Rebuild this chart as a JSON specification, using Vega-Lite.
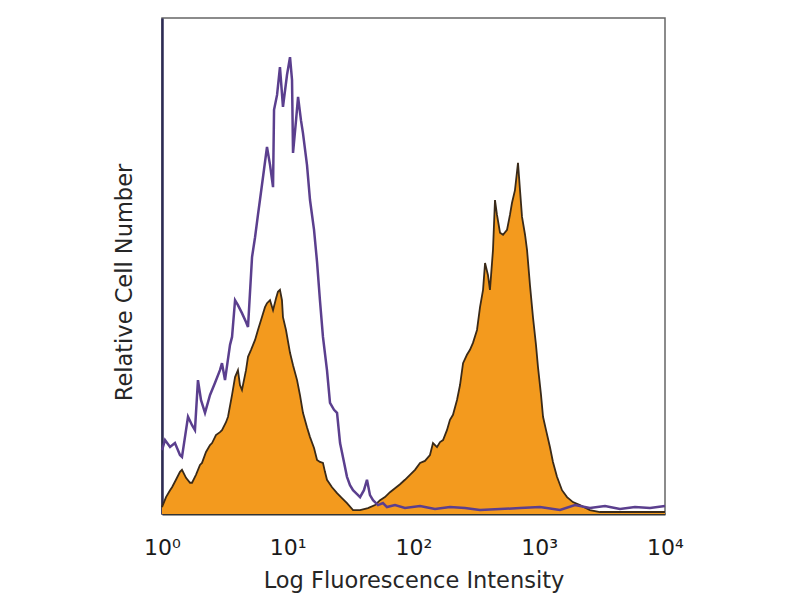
{
  "$schema": "https://vega.github.io/schema/vega-lite/v6.json",
  "autosize": {"type": "none"},
  "width": 503,
  "height": 496,
  "padding": {"left": 162, "top": 18, "right": 135, "bottom": 86},
  "background": "#ffffff",
  "config": {
    "view": {"stroke": "#666666", "strokeWidth": 1.5},
    "font": "DejaVu Sans"
  },
  "datasets": {
    "control": [
      {"log_intensity": 0, "count": 12.9}, {"log_intensity": 0.024, "count": 14.9}, {"log_intensity": 0.064, "count": 13.5},
      {"log_intensity": 0.103, "count": 14.3}, {"log_intensity": 0.143, "count": 11.9}, {"log_intensity": 0.159, "count": 11.5},
      {"log_intensity": 0.191, "count": 16.9}, {"log_intensity": 0.207, "count": 19.6}, {"log_intensity": 0.239, "count": 17.9},
      {"log_intensity": 0.262, "count": 16.9}, {"log_intensity": 0.286, "count": 27.0}, {"log_intensity": 0.310, "count": 23.0},
      {"log_intensity": 0.342, "count": 20.4}, {"log_intensity": 0.382, "count": 24.0}, {"log_intensity": 0.421, "count": 26.4},
      {"log_intensity": 0.461, "count": 29.0}, {"log_intensity": 0.477, "count": 30.4}, {"log_intensity": 0.501, "count": 27.0},
      {"log_intensity": 0.541, "count": 34.1}, {"log_intensity": 0.557, "count": 35.7}, {"log_intensity": 0.581, "count": 43.1},
      {"log_intensity": 0.604, "count": 42.1}, {"log_intensity": 0.636, "count": 40.5}, {"log_intensity": 0.668, "count": 38.7},
      {"log_intensity": 0.684, "count": 37.7}, {"log_intensity": 0.716, "count": 51.8}, {"log_intensity": 0.740, "count": 55.8},
      {"log_intensity": 0.763, "count": 60.3}, {"log_intensity": 0.779, "count": 63.3}, {"log_intensity": 0.811, "count": 69.4},
      {"log_intensity": 0.835, "count": 74.0}, {"log_intensity": 0.859, "count": 70.4}, {"log_intensity": 0.883, "count": 65.9},
      {"log_intensity": 0.891, "count": 81.5}, {"log_intensity": 0.915, "count": 84.5}, {"log_intensity": 0.938, "count": 90.1},
      {"log_intensity": 0.962, "count": 82.1}, {"log_intensity": 0.994, "count": 88.5}, {"log_intensity": 1.018, "count": 92.1},
      {"log_intensity": 1.034, "count": 87.5}, {"log_intensity": 1.042, "count": 72.8}, {"log_intensity": 1.066, "count": 79.4},
      {"log_intensity": 1.082, "count": 84.1}, {"log_intensity": 1.105, "count": 79.4}, {"log_intensity": 1.121, "count": 76.8},
      {"log_intensity": 1.153, "count": 70.4}, {"log_intensity": 1.177, "count": 63.3}, {"log_intensity": 1.209, "count": 57.3},
      {"log_intensity": 1.233, "count": 50.8}, {"log_intensity": 1.256, "count": 43.1}, {"log_intensity": 1.280, "count": 35.7},
      {"log_intensity": 1.312, "count": 29.0}, {"log_intensity": 1.336, "count": 22.4}, {"log_intensity": 1.368, "count": 21.0},
      {"log_intensity": 1.392, "count": 20.4}, {"log_intensity": 1.416, "count": 14.3}, {"log_intensity": 1.447, "count": 10.5},
      {"log_intensity": 1.471, "count": 7.5}, {"log_intensity": 1.495, "count": 5.8}, {"log_intensity": 1.519, "count": 4.8},
      {"log_intensity": 1.551, "count": 4.0}, {"log_intensity": 1.575, "count": 3.4}, {"log_intensity": 1.606, "count": 4.8},
      {"log_intensity": 1.630, "count": 6.9}, {"log_intensity": 1.654, "count": 3.8}, {"log_intensity": 1.678, "count": 2.8},
      {"log_intensity": 1.718, "count": 1.8}, {"log_intensity": 1.757, "count": 2.2}, {"log_intensity": 1.789, "count": 1.4},
      {"log_intensity": 1.853, "count": 1.8}, {"log_intensity": 1.932, "count": 1.2}, {"log_intensity": 2.052, "count": 1.6},
      {"log_intensity": 2.171, "count": 1.0}, {"log_intensity": 2.290, "count": 1.4}, {"log_intensity": 2.409, "count": 1.2},
      {"log_intensity": 2.529, "count": 0.8}, {"log_intensity": 2.688, "count": 1.0}, {"log_intensity": 2.847, "count": 1.2},
      {"log_intensity": 3.006, "count": 1.4}, {"log_intensity": 3.165, "count": 0.8}, {"log_intensity": 3.284, "count": 1.8},
      {"log_intensity": 3.403, "count": 1.2}, {"log_intensity": 3.523, "count": 1.6}, {"log_intensity": 3.642, "count": 1.0},
      {"log_intensity": 3.761, "count": 1.4}, {"log_intensity": 3.881, "count": 1.2}, {"log_intensity": 4.0, "count": 1.6}
    ],
    "stained": [
      {"log_intensity": 0, "count": 1.4}, {"log_intensity": 0.032, "count": 3.4}, {"log_intensity": 0.064, "count": 4.8},
      {"log_intensity": 0.080, "count": 5.4}, {"log_intensity": 0.111, "count": 6.9}, {"log_intensity": 0.143, "count": 8.5},
      {"log_intensity": 0.159, "count": 8.9}, {"log_intensity": 0.191, "count": 7.3}, {"log_intensity": 0.223, "count": 6.3},
      {"log_intensity": 0.239, "count": 6.3}, {"log_intensity": 0.270, "count": 7.9}, {"log_intensity": 0.302, "count": 9.9},
      {"log_intensity": 0.318, "count": 10.3}, {"log_intensity": 0.350, "count": 12.5}, {"log_intensity": 0.382, "count": 13.9},
      {"log_intensity": 0.398, "count": 14.3}, {"log_intensity": 0.429, "count": 15.9}, {"log_intensity": 0.461, "count": 16.5},
      {"log_intensity": 0.477, "count": 16.9}, {"log_intensity": 0.509, "count": 18.5}, {"log_intensity": 0.525, "count": 19.6},
      {"log_intensity": 0.557, "count": 24.0}, {"log_intensity": 0.581, "count": 27.6}, {"log_intensity": 0.604, "count": 29.0},
      {"log_intensity": 0.620, "count": 26.0}, {"log_intensity": 0.636, "count": 25.0}, {"log_intensity": 0.668, "count": 29.0},
      {"log_intensity": 0.684, "count": 31.7}, {"log_intensity": 0.708, "count": 33.1}, {"log_intensity": 0.740, "count": 35.1},
      {"log_intensity": 0.763, "count": 37.1}, {"log_intensity": 0.795, "count": 39.7}, {"log_intensity": 0.819, "count": 41.7},
      {"log_intensity": 0.835, "count": 42.5}, {"log_intensity": 0.859, "count": 43.1}, {"log_intensity": 0.883, "count": 41.1},
      {"log_intensity": 0.907, "count": 43.5}, {"log_intensity": 0.922, "count": 44.8}, {"log_intensity": 0.938, "count": 45.2},
      {"log_intensity": 0.954, "count": 43.1}, {"log_intensity": 0.962, "count": 39.7}, {"log_intensity": 0.986, "count": 37.1},
      {"log_intensity": 1.018, "count": 32.5}, {"log_intensity": 1.042, "count": 30.0}, {"log_intensity": 1.074, "count": 27.0},
      {"log_intensity": 1.097, "count": 24.0}, {"log_intensity": 1.121, "count": 20.4}, {"log_intensity": 1.153, "count": 17.5},
      {"log_intensity": 1.177, "count": 15.5}, {"log_intensity": 1.209, "count": 13.3}, {"log_intensity": 1.233, "count": 10.9},
      {"log_intensity": 1.256, "count": 10.5}, {"log_intensity": 1.280, "count": 10.3}, {"log_intensity": 1.296, "count": 8.5},
      {"log_intensity": 1.312, "count": 6.9}, {"log_intensity": 1.352, "count": 5.4}, {"log_intensity": 1.392, "count": 4.2},
      {"log_intensity": 1.431, "count": 3.2}, {"log_intensity": 1.471, "count": 2.2}, {"log_intensity": 1.519, "count": 0.8},
      {"log_intensity": 1.575, "count": 0.8}, {"log_intensity": 1.638, "count": 1.2}, {"log_intensity": 1.694, "count": 1.8},
      {"log_intensity": 1.734, "count": 2.8}, {"log_intensity": 1.773, "count": 3.4}, {"log_intensity": 1.813, "count": 4.4},
      {"log_intensity": 1.853, "count": 5.2}, {"log_intensity": 1.893, "count": 6.0}, {"log_intensity": 1.932, "count": 6.9},
      {"log_intensity": 1.972, "count": 7.9}, {"log_intensity": 2.012, "count": 8.9}, {"log_intensity": 2.052, "count": 10.3},
      {"log_intensity": 2.091, "count": 10.7}, {"log_intensity": 2.131, "count": 11.9}, {"log_intensity": 2.155, "count": 14.3},
      {"log_intensity": 2.187, "count": 13.5}, {"log_intensity": 2.211, "count": 14.5}, {"log_intensity": 2.235, "count": 14.9},
      {"log_intensity": 2.266, "count": 16.9}, {"log_intensity": 2.290, "count": 19.0}, {"log_intensity": 2.314, "count": 20.0},
      {"log_intensity": 2.346, "count": 23.0}, {"log_intensity": 2.370, "count": 26.0}, {"log_intensity": 2.394, "count": 30.4},
      {"log_intensity": 2.425, "count": 32.1}, {"log_intensity": 2.449, "count": 33.1}, {"log_intensity": 2.473, "count": 34.5},
      {"log_intensity": 2.505, "count": 37.1}, {"log_intensity": 2.529, "count": 41.7}, {"log_intensity": 2.553, "count": 45.2},
      {"log_intensity": 2.569, "count": 50.6}, {"log_intensity": 2.592, "count": 48.2}, {"log_intensity": 2.608, "count": 45.2},
      {"log_intensity": 2.632, "count": 53.2}, {"log_intensity": 2.648, "count": 63.3}, {"log_intensity": 2.664, "count": 60.3},
      {"log_intensity": 2.688, "count": 56.7}, {"log_intensity": 2.712, "count": 56.3}, {"log_intensity": 2.744, "count": 57.3},
      {"log_intensity": 2.767, "count": 60.3}, {"log_intensity": 2.783, "count": 62.7}, {"log_intensity": 2.807, "count": 65.3},
      {"log_intensity": 2.831, "count": 70.8}, {"log_intensity": 2.847, "count": 65.3}, {"log_intensity": 2.863, "count": 59.9},
      {"log_intensity": 2.887, "count": 56.3}, {"log_intensity": 2.903, "count": 53.2}, {"log_intensity": 2.926, "count": 46.2},
      {"log_intensity": 2.950, "count": 39.7}, {"log_intensity": 2.974, "count": 34.1}, {"log_intensity": 2.990, "count": 29.6},
      {"log_intensity": 3.014, "count": 24.0}, {"log_intensity": 3.030, "count": 19.6}, {"log_intensity": 3.054, "count": 16.9},
      {"log_intensity": 3.085, "count": 13.5}, {"log_intensity": 3.109, "count": 10.5}, {"log_intensity": 3.141, "count": 7.5},
      {"log_intensity": 3.181, "count": 4.8}, {"log_intensity": 3.221, "count": 3.4}, {"log_intensity": 3.268, "count": 2.4},
      {"log_intensity": 3.324, "count": 1.8}, {"log_intensity": 3.403, "count": 0.8}, {"log_intensity": 3.483, "count": 0.4},
      {"log_intensity": 3.642, "count": 0.4}, {"log_intensity": 3.801, "count": 0.4}, {"log_intensity": 4.0, "count": 0.4}
    ]
  },
  "encoding": {
    "x": {
      "field": "log_intensity",
      "type": "quantitative",
      "scale": {"domain": [0, 4], "nice": false, "zero": false},
      "axis": {
        "title": "Log Fluorescence Intensity",
        "values": [0, 1, 2, 3, 4],
        "labelExpr": "'10' + ['⁰','¹','²','³','⁴'][datum.value]",
        "labelFontSize": 22,
        "labelColor": "#1a1a1a",
        "labelPadding": 23,
        "labelFlush": false,
        "ticks": false,
        "grid": false,
        "domainColor": "#333333",
        "domainWidth": 2,
        "titleFontSize": 22.5,
        "titleFontWeight": "normal",
        "titleColor": "#262626",
        "titlePadding": 11
      }
    },
    "y": {
      "field": "count",
      "type": "quantitative",
      "scale": {"domain": [0, 100], "nice": false},
      "axis": {
        "title": "Relative Cell Number",
        "labels": false,
        "ticks": false,
        "grid": false,
        "domainColor": "#2d2b55",
        "domainWidth": 2.5,
        "titleFontSize": 22.5,
        "titleFontWeight": "normal",
        "titleColor": "#262626",
        "titlePadding": 26,
        "titleY": 264
      }
    }
  },
  "layer": [
    {"data": {"name": "stained"}, "mark": {"type": "area", "color": "#F39A1E", "opacity": 1}},
    {"data": {"name": "stained"}, "mark": {"type": "line", "color": "#3a2a18", "strokeWidth": 1.8}},
    {"data": {"name": "control"}, "mark": {"type": "line", "color": "#5b3f8e", "strokeWidth": 2.5}}
  ]
}
